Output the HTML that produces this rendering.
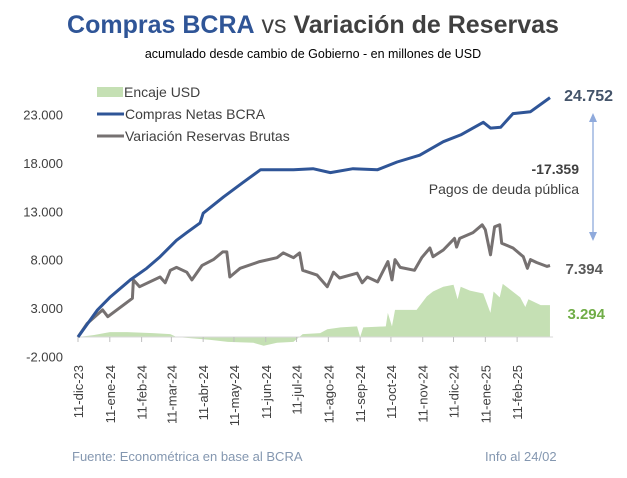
<!DOCTYPE html>
<html><head><meta charset="utf-8"><style>
body{margin:0;background:#fff;width:627px;height:478px;overflow:hidden;font-family:"Liberation Sans",sans-serif}
</style></head><body>
<svg id="c" width="627" height="478" style="position:absolute;left:0;top:0">
<text x="313" y="33" text-anchor="middle" font-size="25" font-weight="bold"><tspan fill="#2F5597">Compras BCRA</tspan><tspan fill="#404040" font-weight="normal"> vs </tspan><tspan fill="#404040">Variación de Reservas</tspan></text>
<text x="313" y="58" text-anchor="middle" font-size="12.5" fill="#000">acumulado desde cambio de Gobierno - en millones de USD</text>
<g>
<rect x="97" y="87" width="26" height="10" fill="#C5E0B4"/>
<text x="124" y="97" font-size="14" fill="#404040">Encaje USD</text>
<line x1="97" y1="114" x2="124" y2="114" stroke="#2F5597" stroke-width="3"/>
<text x="125" y="119" font-size="14" fill="#404040">Compras Netas BCRA</text>
<line x1="97" y1="136" x2="124" y2="136" stroke="#767171" stroke-width="3"/>
<text x="125" y="141" font-size="14" fill="#404040">Variación Reservas Brutas</text>
</g>
<text x="613" y="101" text-anchor="end" font-size="16" font-weight="bold" fill="#44546A">24.752</text>
<text x="603" y="274" text-anchor="end" font-size="15" font-weight="bold" fill="#595959">7.394</text>
<text x="605" y="319" text-anchor="end" font-size="15" font-weight="bold" fill="#70AD47">3.294</text>
<line x1="593" y1="116" x2="593" y2="238" stroke="#8FAADC" stroke-width="1.3"/>
<path d="M589,122 L593,113 L597,122 Z M589,232 L593,241 L597,232 Z" fill="#8FAADC"/>
<text x="579" y="174" text-anchor="end" font-size="14" font-weight="bold" fill="#404040">-17.359</text>
<text x="579" y="194" text-anchor="end" font-size="14" fill="#404040">Pagos de deuda pública</text>
<text x="72" y="461" font-size="13" fill="#8497B0">Fuente: Econométrica en base al BCRA</text>
<text x="485" y="461" font-size="13" fill="#8497B0">Info al 24/02</text>
</svg>
<script>
const yTicks=[-2000,3000,8000,13000,18000,23000];
const yTickLabels=["-2.000","3.000","8.000","13.000","18.000","23.000"];
const xTickLabels=["11-dic-23","11-ene-24","11-feb-24","11-mar-24","11-abr-24","11-may-24","11-jun-24","11-jul-24","11-ago-24","11-sep-24","11-oct-24","11-nov-24","11-dic-24","11-ene-25","11-feb-25"];
const xTickDays=[0,31,62,91,122,152,183,213,244,275,305,336,366,397,428];
const comprasDays=[0,19,31,51,67,80,96,106,119,122,142,161,178,210,229,246,268,292,311,333,356,373,395,402,412,424,441,460];
const comprasVals=[0,2800,4100,5900,7100,8300,10000,10800,11800,12800,14500,16000,17300,17300,17400,17000,17400,17300,18100,18800,20200,20900,22200,21600,21700,23100,23300,24752];
const reservasDays=[0,9,24,29,48,53,54,60,80,85,90,96,106,111,121,132,141,145,148,158,177,194,200,210,216,219,233,243,249,255,272,277,282,292,302,306,309,314,328,335,343,346,356,367,369,372,385,394,397,402,406,411,413,424,434,438,441,447,457,460];
const reservasVals=[0,1400,2800,2100,3600,4000,5900,5200,6200,5600,6900,7200,6700,5900,7400,8000,8800,8800,6200,7100,7800,8200,8700,8200,8700,6900,6400,5200,6700,6100,6600,5600,6200,5700,7800,5900,8000,7200,6900,8200,9200,8300,9000,10200,9300,10200,10800,11600,11100,8500,11400,11600,9700,9200,8300,7100,8000,7700,7300,7394];
const encajeDays=[0,15,31,48,73,90,96,129,146,171,181,194,210,219,236,243,256,272,275,278,300,302,306,309,330,340,346,356,366,370,373,382,395,402,405,411,414,431,436,439,451,460];
const encajeVals=[0,200,500,500,400,300,0,-300,-500,-600,-900,-600,-500,300,400,800,1000,1100,0,1000,1100,2500,1100,2800,2800,4200,4700,5200,5400,3900,5200,4800,4500,2500,4700,4100,5500,4100,3100,3900,3300,3294];
</script>
<script>
(function(){
const svg=document.getElementById('c');
const NS='http://www.w3.org/2000/svg';
const X=d=>78+d*1.026;
const Y=v=>337-v*0.00967;
function mk(t,a){const e=document.createElementNS(NS,t);for(const k in a)e.setAttribute(k,a[k]);return e;}
const plot=mk('g',{});


svg.appendChild(plot);
yTicks.forEach((v,i)=>{const t=mk('text',{x:63,y:Y(v)+5,'text-anchor':'end','font-size':13,fill:'#404040'});t.textContent=yTickLabels[i];


svg.appendChild(t);});
let d='M'+X(encajeDays[0])+','+Y(0);
encajeDays.forEach((dd,i)=>{d+=' L'+X(dd)+','+Y(encajeVals[i]);});
d+=' L'+X(encajeDays[encajeDays.length-1])+','+Y(0)+' Z';
const area=mk('path',{d:d,fill:'#C5E0B4'});


plot.appendChild(area);
const ax=mk('line',{x1:X(0),x2:X(463),y1:Y(0),y2:Y(0),stroke:'#D9D9D9','stroke-width':1});


plot.appendChild(ax);
xTickDays.forEach((dd,i)=>{
 const tk=mk('line',{x1:X(dd),x2:X(dd),y1:Y(0),y2:Y(0)+5,stroke:'#BFBFBF'});
 
 
 plot.appendChild(tk);
 const t=mk('text',{transform:'translate('+(X(dd)+5)+',365) rotate(-90)','text-anchor':'end','font-size':13,fill:'#404040'});
 t.textContent=xTickLabels[i];
 
 
 svg.appendChild(t);
});
function line(days,vals,col,name){const len=Math.min(days.length,vals.length);let p='';for(let i=0;i<len;i++)p+=(i?' L':'M')+X(days[i]).toFixed(1)+','+Y(vals[i]).toFixed(1);
 const e=mk('path',{d:p,fill:'none',stroke:col,'stroke-width':3,'stroke-linejoin':'round'});
 
 
 plot.appendChild(e);}
line(reservasDays,reservasVals,'#767171','reservas-line');
line(comprasDays,comprasVals,'#2F5597','compras-line');
})();
</script>
</body></html>
